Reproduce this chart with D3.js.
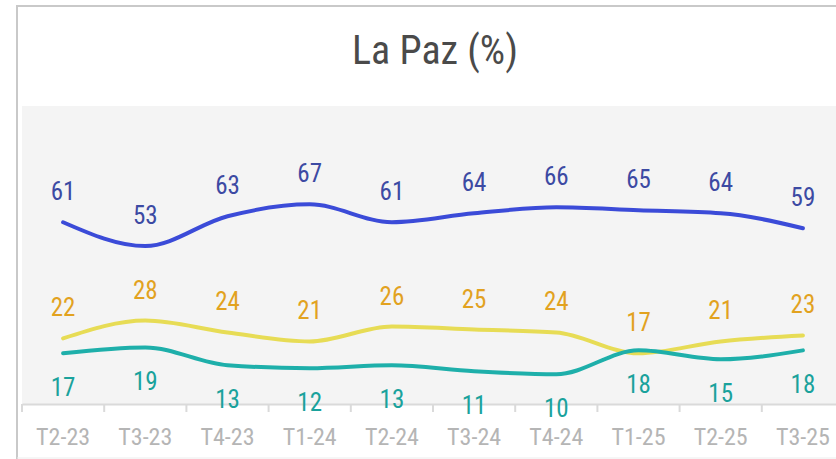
<!DOCTYPE html>
<html lang="es">
<head>
    <meta charset="UTF-8">
    <script src="https://cdn.jsdelivr.net/npm/d3@7"></script>
    <title>La Paz</title>
    <style type="text/css">
    body{
        margin:0;
        background:#fff;
    }
    text{
        font-family:"Liberation Sans Narrow","Roboto Condensed","DejaVu Sans Condensed",sans-serif;
    }
    </style>
</head>
<body>
    <div id="chart"></div>
    <script>
        // datos
        var categories=["T2-23","T3-23","T4-23","T1-24","T2-24","T3-24","T4-24","T1-25","T2-25","T3-25"];
        var seriesBlue=[61,53,63,67,61,64,66,65,64,59];
        var seriesYellow=[22,28,24,21,26,25,24,17,21,23];
        var seriesTeal=[17,19,13,12,13,11,10,18,15,18];
        var yTicks=[0,100];

        var width=836,height=459;
        var plot={left:22,right:844,top:106,bottom:404};

        var svg=d3.select('#chart')
            .append('svg')
            .attr('width',width)
            .attr('height',height);

        // marco
        svg.append('line')
            .attr('x1',17).attr('y1',5).attr('x2',17).attr('y2',height)
            .attr('stroke','#c9c9c9').attr('stroke-width',2);
        svg.append('line')
            .attr('x1',16).attr('y1',6).attr('x2',width).attr('y2',6)
            .attr('stroke','#c9c9c9').attr('stroke-width',2);
        svg.append('line')
            .attr('x1',17).attr('y1',458).attr('x2',width).attr('y2',458)
            .attr('stroke','#ececec').attr('stroke-width',1);

        svg.append('text')
            .attr('x',435)
            .attr('y',64)
            .attr('text-anchor','middle')
            .attr('font-size',40)
            .attr('fill','#4a4a4a')
            .text('La Paz (%)');

        var scale_x=d3.scaleBand()
            .domain(categories)
            .range([plot.left,plot.right]);
        var scale_y=d3.scaleLinear()
            .domain(d3.extent(yTicks))
            .range([plot.bottom,plot.top]);

        svg.append('rect')
            .attr('x',plot.left)
            .attr('y',plot.top)
            .attr('width',plot.right-plot.left)
            .attr('height',plot.bottom-plot.top)
            .attr('fill','#f4f4f4');

        // eje x
        var x_axis=d3.axisBottom(scale_x).tickSize(0).tickPadding(0);
        var gx=svg.append('g')
            .attr('transform','translate(0,'+plot.bottom+')')
            .call(x_axis);
        gx.select('.domain').attr('stroke','#dadada').attr('stroke-width',2);
        gx.selectAll('.tick text')
            .attr('dy',0)
            .attr('y',41)
            .attr('font-size',24)
            .attr('fill','#b5b5b5');
        gx.selectAll('.sep')
            .data(categories)
            .enter()
            .append('line')
            .attr('class','sep')
            .attr('x1',d=>scale_x(d))
            .attr('x2',d=>scale_x(d))
            .attr('y1',0)
            .attr('y2',8)
            .attr('stroke','#dadada')
            .attr('stroke-width',2);

        var cx=d=>scale_x(d)+scale_x.bandwidth()/2;

        var series=[
            {values:seriesBlue,line:'#3b4bd8',label:'#3c4aa3',dy:-22},
            {values:seriesYellow,line:'#e7dc55',label:'#e2a21f',dy:-22},
            {values:seriesTeal,line:'#1eafaa',label:'#1aa29c',dy:43}
        ];

        var line=d3.line()
            .x((d,i)=>cx(categories[i]))
            .y(d=>scale_y(d))
            .curve(d3.curveMonotoneX);

        series.forEach(function(s){
            svg.append('path')
                .attr('d',line(s.values))
                .attr('fill','none')
                .attr('stroke',s.line)
                .attr('stroke-width',4)
                .attr('stroke-linecap','round');
        });

        series.forEach(function(s){
            svg.append('g')
                .selectAll('text')
                .data(s.values)
                .enter()
                .append('text')
                .attr('x',(d,i)=>cx(categories[i]))
                .attr('y',d=>scale_y(d)+s.dy)
                .attr('text-anchor','middle')
                .attr('font-size',25)
                .attr('fill',s.label)
                .text(d=>d);
        });
    </script>
</body>
</html>
